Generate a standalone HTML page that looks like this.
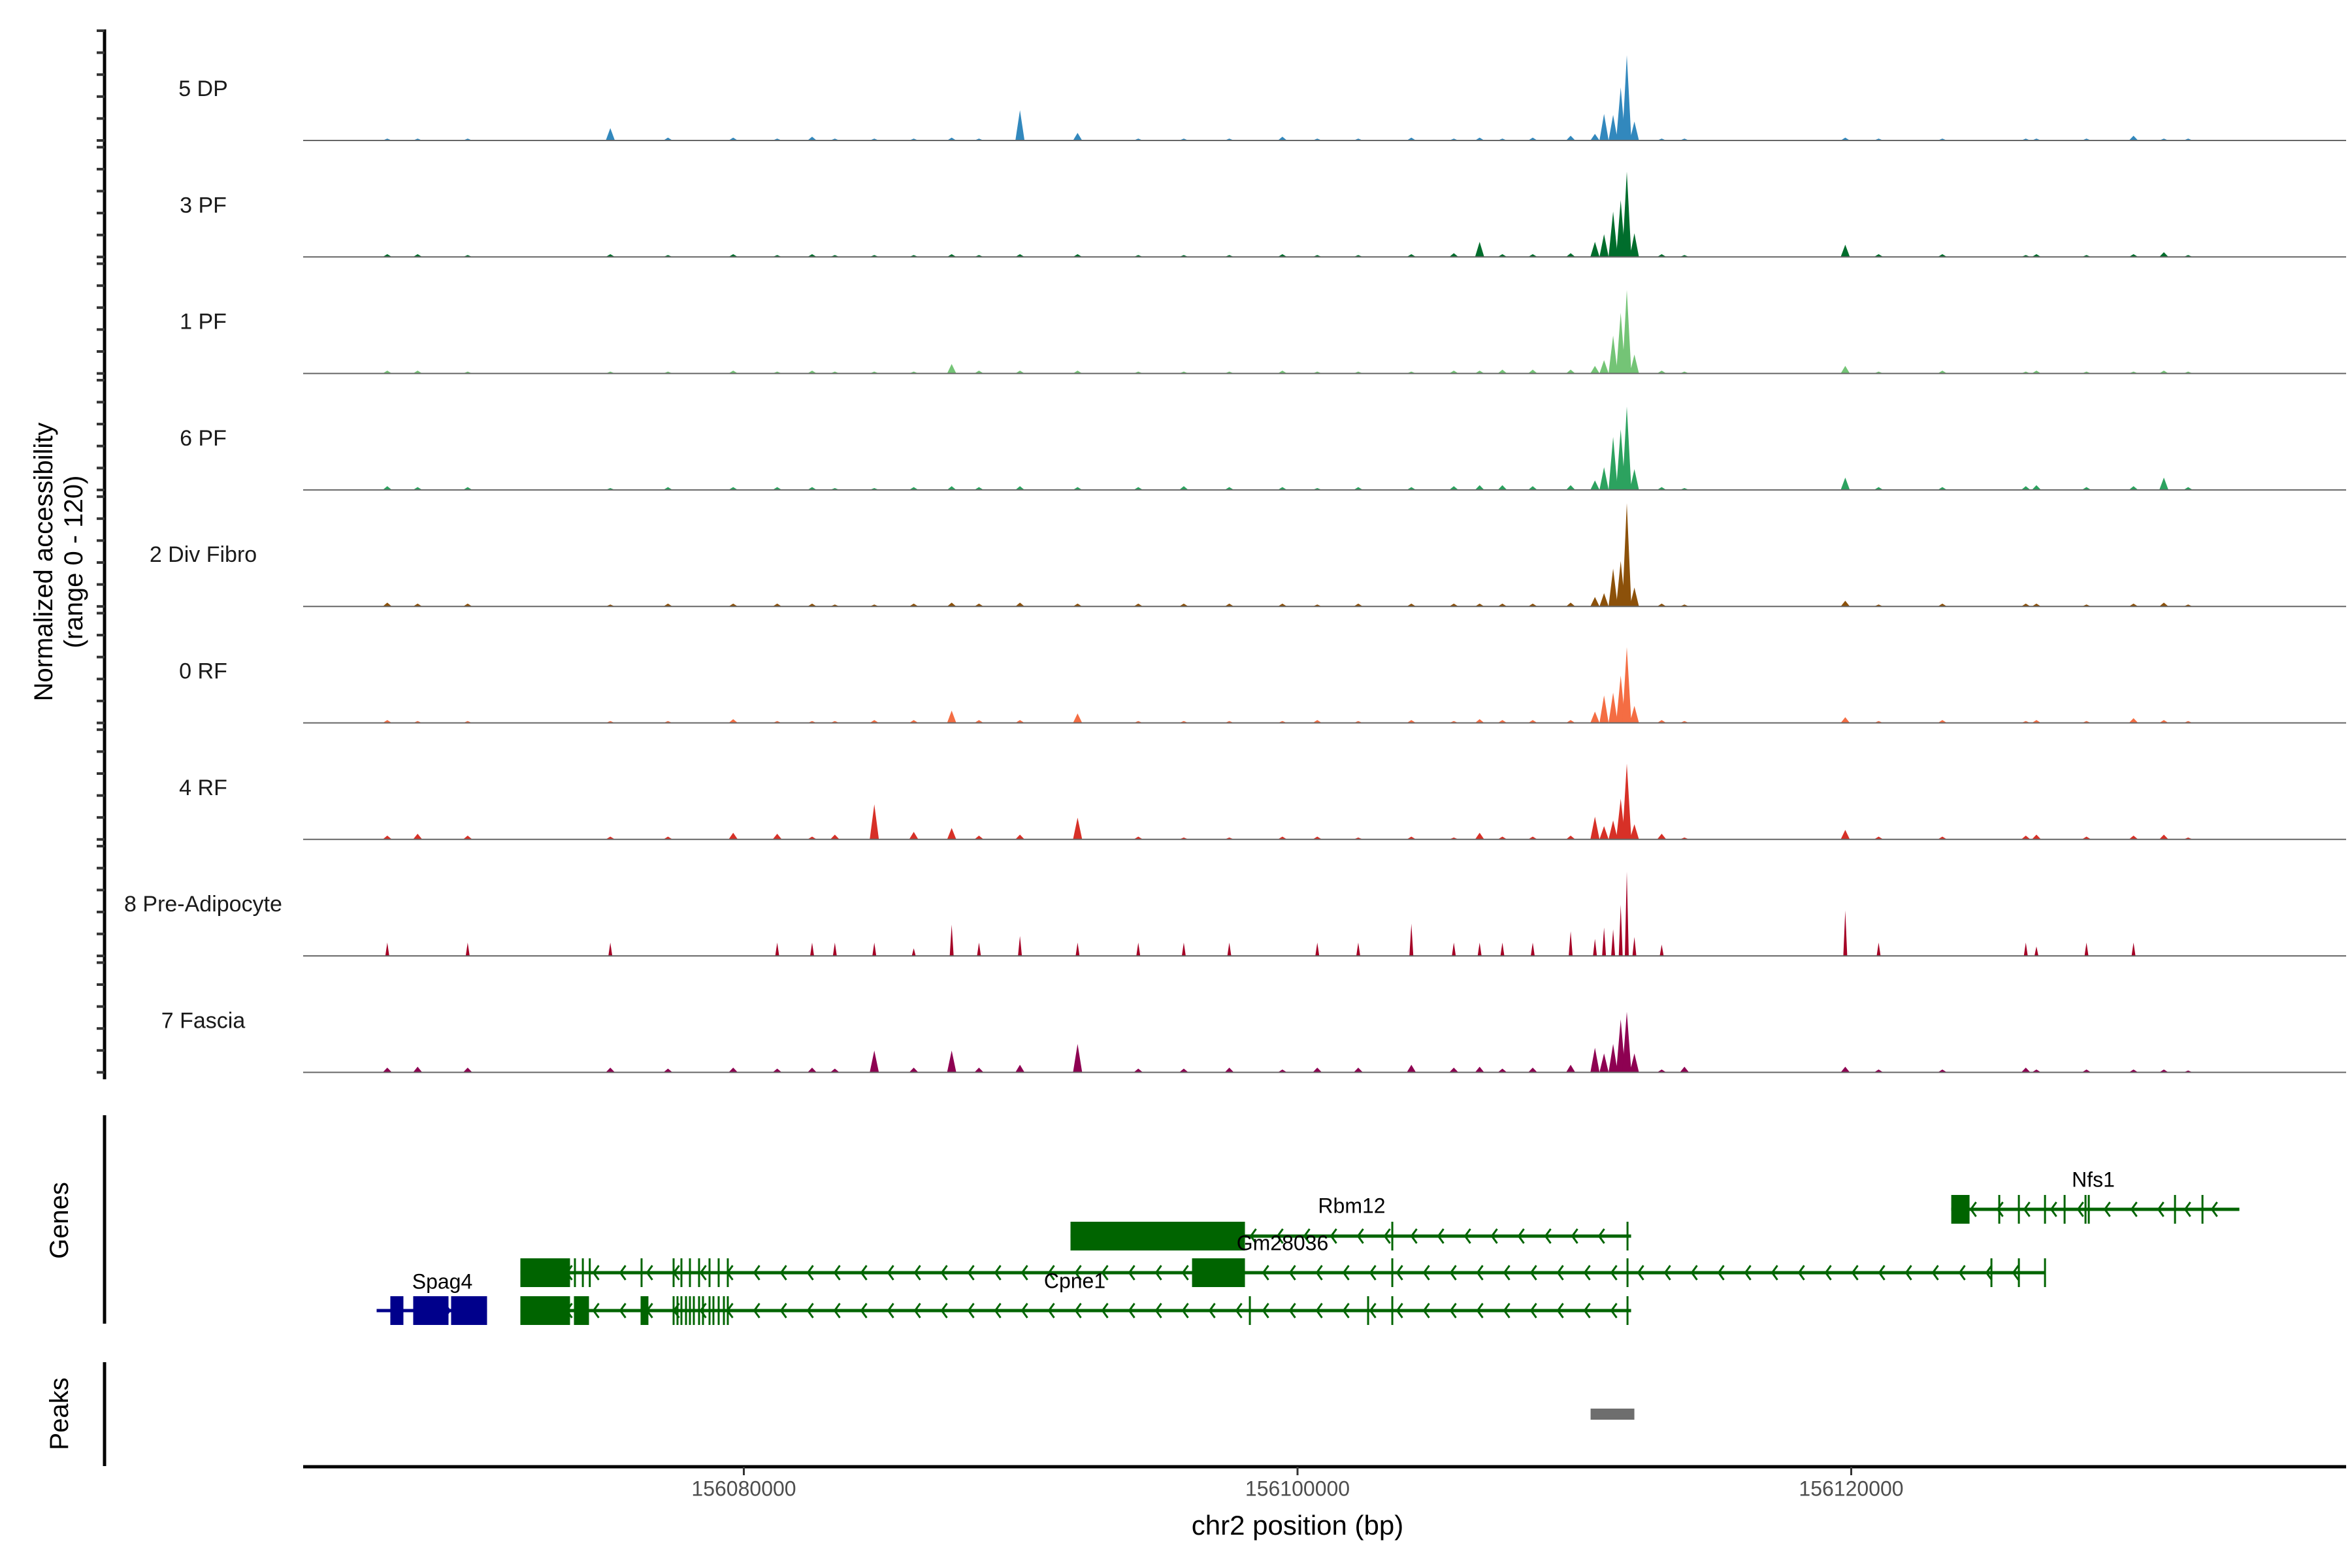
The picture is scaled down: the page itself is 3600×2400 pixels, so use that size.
<!DOCTYPE html>
<html><head><meta charset="utf-8"><style>
html,body{margin:0;padding:0;background:#fff}
svg{display:block;font-family:"Liberation Sans",Arial,sans-serif}
</style></head><body>
<svg id="chart" width="3600" height="2400" viewBox="0 0 3600 2400" xmlns="http://www.w3.org/2000/svg">
<g id="tracks"></g>
<g id="genes"></g>
<g id="peaks"></g>
<g id="axes"></g>
</svg>
<script>
const trackNames = ["5 DP","3 PF","1 PF","6 PF","2 Div Fibro","0 RF","4 RF","8 Pre-Adipocyte","7 Fascia"];
const trackColors = ["#3288bd","#006d2c","#74c476","#2ca25f","#8c510a","#f46d43","#d73027","#a50026","#8e0152"];
const sites = [156067122,156068218,156070026,156075178,156077260,156079616,156081206,156082466,156083288,156084713,156086138,156087508,156088494,156089974,156092056,156094248,156095892,156097536,156099454,156100714,156102194,156104112,156105646,156106578,156107400,156108496,156109866,156110743,156111072,156111400,156111674,156111894,156112168,156113154,156113976,156119785,156120990,156123292,156126306,156126690,156128498,156130197,156131293,156132170];
const hDP = [2,2,2,13,3,3,2,4,2,2,2,3,2,32,8,2,2,2,4,2,2,3,2,3,2,3,5,7,28,27,56,90,20,2,2,3,2,2,2,2,2,5,2,2];
const h3PF = [3,3,2,3,2,3,2,3,2,2,2,3,2,3,3,2,2,2,3,2,2,3,4,16,3,3,4,16,24,48,60,90,25,3,2,13,3,3,2,3,2,3,5,2];
const h1PF = [3,3,2,2,2,3,2,3,2,2,2,10,3,3,3,2,2,2,3,2,2,2,3,3,4,4,4,8,14,40,64,88,20,3,2,8,2,3,2,3,2,2,3,2];
const h6PF = [4,3,3,2,3,3,3,3,2,2,3,4,3,4,3,3,4,3,3,2,3,3,4,5,5,4,5,10,24,56,64,88,22,3,2,13,3,3,4,5,3,4,13,3];
const hDiv = [4,3,3,2,3,3,3,3,2,2,3,4,3,4,3,3,3,3,3,2,3,3,3,3,3,3,4,10,14,40,48,109,20,3,2,6,2,3,3,3,2,3,4,2];
const h0RF = [3,2,2,2,2,4,2,2,2,3,3,13,3,3,10,2,2,2,2,3,2,3,2,4,3,3,3,12,29,32,50,80,18,3,2,6,2,3,2,3,2,5,3,2];
const h4RF = [4,6,4,3,3,7,6,3,5,37,8,12,4,5,23,3,2,2,3,3,2,3,2,7,3,3,4,24,14,20,43,80,16,6,2,10,3,3,4,5,3,4,5,2];
const hPre = [14,0,14,14,0,0,14,14,14,14,8,33,14,21,14,14,14,14,0,14,14,34,14,14,14,14,26,18,30,28,54,89,20,12,0,48,14,0,14,10,14,14,0,0];
const hFas = [5,6,5,5,4,5,4,5,4,23,5,23,5,8,30,4,4,5,3,5,5,8,5,6,4,5,8,26,20,30,56,64,20,3,6,6,3,3,5,3,3,3,3,2];
const trackHeights = [hDP,h3PF,h1PF,h6PF,hDiv,h0RF,h4RF,hPre,hFas];
const xTicks = [156080000,156100000,156120000];
const peakStarts = [156110586];
const peakEnds = [156112167];
const spag4Exons = [[156067232,156067704],[156068058,156069333],[156069427,156070725]];
const spag4Span = [156066737,156070725];
const cpne1Exons = [[156071929,156073722],[156073864,156074407],[156076271,156076554],[156077428,156077498],[156077569,156077639],[156077711,156077781],[156077876,156077946],[156078018,156078088],[156078159,156078229],[156078348,156078418],[156078490,156078560],[156078726,156078796],[156078867,156078937],[156079056,156079126],[156079245,156079315],[156079386,156079456],[156098243,156098300],[156102514,156102570],[156103388,156103440],[156111884,156111940]];
const cpne1Span = [156071929,156112049];
const gmExons = [[156071929,156073722],[156073864,156073900],[156074150,156074190],[156074400,156074440],[156076271,156076300],[156077428,156077498],[156077711,156077781],[156078018,156078088],[156078348,156078418],[156078726,156078796],[156079056,156079126],[156079386,156079456],[156096190,156098101],[156103388,156103440],[156111884,156111940],[156125029,156125080],[156126020,156126070],[156126964,156127011]];
const gmSpan = [156071929,156127011];
const rbmExons = [[156091800,156098101],[156103388,156103440],[156111884,156111940]];
const rbmSpan = [156091800,156112049];
const nfsExons = [[156123613,156124274],[156125312,156125360],[156126020,156126070],[156126964,156127010],[156127672,156127720],[156128427,156128480],[156128545,156128600],[156131660,156131710],[156132652,156132700]];
const nfsSpan = [156123613,156134020];

const NS="http://www.w3.org/2000/svg";
function X(bp){return 1986+(bp-156100000)*0.042375;}
function Y(v,base){return base - v*1.45;}
function base(i){return 215+i*178.3;}
function mk(tag,attrs,parent,text){const e=document.createElementNS(NS,tag);for(const k in attrs)e.setAttribute(k,attrs[k]);if(text!==undefined)e.textContent=text;parent.appendChild(e);return e;}

const tg=document.getElementById('tracks');
trackNames.forEach((nm,i)=>{
  const b=base(i);
  const g=mk('g',{},tg);
  
  
  const lab=mk('text',{x:311,y:b-77,'font-size':34,'text-anchor':'middle','dominant-baseline':'middle',fill:'#1a1a1a'},g,nm);
  
  
  const hw = i===7?3:7;
  trackHeights[i].forEach((v,j)=>{
    if(v<=0)return;
    const x=X(sites[j]);
    const p=mk('polygon',{points:`${x-hw},${b} ${x},${Y(v,b)} ${x+hw},${b}`,fill:trackColors[i]},g);
    
    
  });
  const bl=mk('line',{x1:464,x2:3591,y1:b,y2:b,stroke:'#666',"stroke-width":2},g);
  
  
});

const gg=document.getElementById('genes');
function drawGene(name,span,exons,y,color,dir,lx,ly){
  const g=mk('g',{},gg);
  
  
  mk('line',{x1:X(span[0]),x2:X(span[1]),y1:y,y2:y,stroke:color,'stroke-width':5},g);
  for(let x=X(span[0])+30;x<X(span[1])-10;x+=41){
    const d=dir<0?8:-8;
    mk('polyline',{points:`${x+d},${y-11} ${x},${y} ${x+d},${y+11}`,fill:'none',stroke:color,'stroke-width':3},g);
  }
  exons.forEach(e=>{
    const x1=X(e[0]),w=Math.max(3,X(e[1])-x1);
    const r=mk('rect',{x:x1,y:y-22,width:w,height:44,fill:color},g);
    
    
  });
  const t=mk('text',{x:lx,y:ly,'font-size':32,'text-anchor':'middle','dominant-baseline':'middle',fill:'#000'},g,name);
  
  
}
drawGene('Nfs1',nfsSpan,nfsExons,1851,'#006400',-1,3204,1808);
drawGene('Rbm12',rbmSpan,rbmExons,1892,'#006400',-1,2069,1848);
drawGene('Gm28036',gmSpan,gmExons,1948,'#006400',-1,1963,1905);
drawGene('Cpne1',cpne1Span,cpne1Exons,2006,'#006400',-1,1645,1963);
drawGene('Spag4',spag4Span,spag4Exons,2006,'#00008b',1,677,1964);

const pg=document.getElementById('peaks');
peakStarts.forEach((s,i)=>{
  const r=mk('rect',{x:X(s),y:2156,width:X(peakEnds[i])-X(s),height:17,fill:'#6e6e6e'},pg);
  
  
});

const ag=document.getElementById('axes');
let e=mk('line',{x1:160,x2:160,y1:45,y2:1652,stroke:'#000','stroke-width':5},ag);


for(let i=0;i<trackNames.length;i++){for(let k=0;k<6;k++){const y=base(i)-k*33.6;mk('line',{x1:148,x2:160,y1:y,y2:y,stroke:'#333','stroke-width':4},ag);}}
e=mk('line',{x1:160,x2:160,y1:1707,y2:2026,stroke:'#000','stroke-width':5},ag);


e=mk('line',{x1:160,x2:160,y1:2085,y2:2244,stroke:'#000','stroke-width':5},ag);


e=mk('text',{transform:'translate(80,860) rotate(-90)','font-size':40,'text-anchor':'middle',fill:'#000'},ag,'Normalized accessibility');


e=mk('text',{transform:'translate(126,860) rotate(-90)','font-size':40,'text-anchor':'middle',fill:'#000'},ag,'(range 0 - 120)');


e=mk('text',{transform:'translate(104,1868) rotate(-90)','font-size':40,'text-anchor':'middle',fill:'#000'},ag,'Genes');


e=mk('text',{transform:'translate(104,2164) rotate(-90)','font-size':40,'text-anchor':'middle',fill:'#000'},ag,'Peaks');


e=mk('line',{x1:464,x2:3591,y1:2245,y2:2245,stroke:'#000','stroke-width':5},ag);


xTicks.forEach(t=>{
  const x=X(t);
  mk('line',{x1:x,x2:x,y1:2245,y2:2258,stroke:'#333','stroke-width':3},ag);
  const l=mk('text',{x:x,y:2281,'font-size':32,'text-anchor':'middle','dominant-baseline':'middle',fill:'#4d4d4d'},ag,String(t));
  
  
});
e=mk('text',{x:1986,y:2338,'font-size':42,'text-anchor':'middle','dominant-baseline':'middle',fill:'#000'},ag,'chr2 position (bp)');


</script>
</body></html>
